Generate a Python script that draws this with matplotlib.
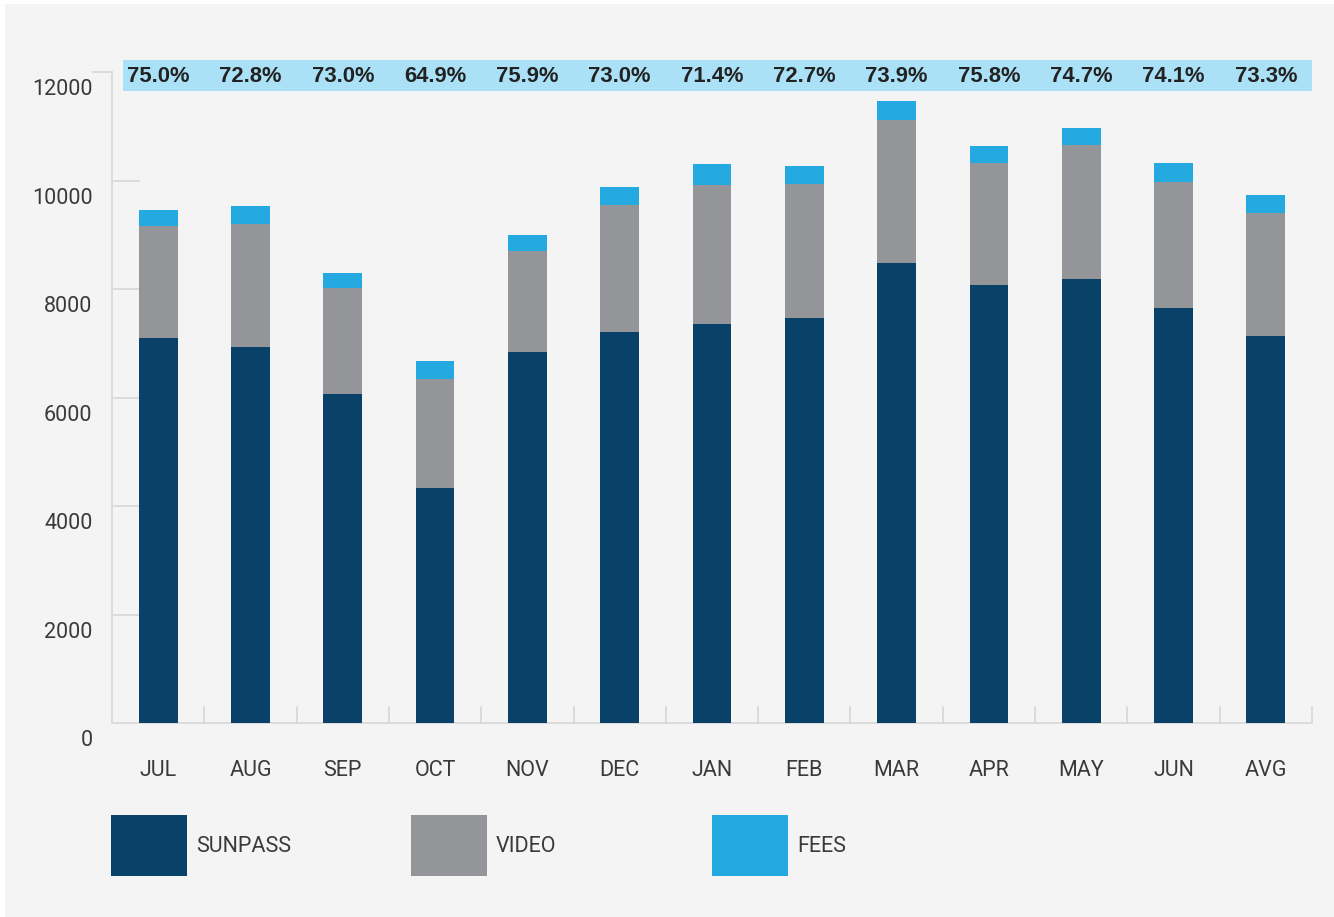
import matplotlib
matplotlib.use("Agg")
import matplotlib.pyplot as plt
from matplotlib.patches import Rectangle
from matplotlib.transforms import ScaledTranslation

# Monthly revenue split (stacked), plus the SunPass share of each month's total
months = ["JUL", "AUG", "SEP", "OCT", "NOV", "DEC", "JAN", "FEB", "MAR", "APR", "MAY", "JUN", "AVG"]
sunpass = [7095, 6940, 6060, 4330, 6830, 7210, 7360, 7470, 8480, 8065, 8190, 7650, 7130]
video = [2065, 2260, 1960, 2010, 1870, 2340, 2560, 2470, 2640, 2265, 2470, 2320, 2270]
fees = [300, 330, 280, 330, 300, 330, 390, 330, 350, 310, 310, 350, 330]
share_labels = ["75.0%", "72.8%", "73.0%", "64.9%", "75.9%", "73.0%", "71.4%",
                "72.7%", "73.9%", "75.8%", "74.7%", "74.1%", "73.3%"]
series_names = ["SUNPASS", "VIDEO", "FEES"]
y_ticks = [0, 2000, 4000, 6000, 8000, 10000, 12000]

C_SUN = "#0a4169"
C_VID = "#949599"
C_FEE = "#24a9e1"
C_BAND = "#abe1f6"
C_BG = "#f4f4f4"
C_AXIS = "#d9d9d9"
C_TEXT = "#3a3a3a"

LIGHT = dict(family=["Roboto", "DejaVu Sans"], weight="normal")

W, H = 1334, 917
fig = plt.figure(figsize=(W / 100, H / 100), dpi=100, facecolor="white")
fig.patches.append(Rectangle((5 / W, 0), 1 - 5 / W, 1 - 4 / H, transform=fig.transFigure,
                             facecolor=C_BG, edgecolor="none", zorder=-10))

ax = fig.add_axes([112 / W, 194 / H, 1200 / W, 651 / H])
ax.set_facecolor("none")

x = list(range(len(months)))
bw = 0.42
base_video = sunpass
base_fees = [s + v for s, v in zip(sunpass, video)]
ax.bar(x, sunpass, width=bw, color=C_SUN, zorder=3)
ax.bar(x, video, width=bw, bottom=base_video, color=C_VID, zorder=3)
ax.bar(x, fees, width=bw, bottom=base_fees, color=C_FEE, zorder=3)

ax.set_xlim(-0.5, len(months) - 0.5)
ax.set_ylim(0, 12000)

for side in ("top", "right"):
    ax.spines[side].set_visible(False)
for side in ("left", "bottom"):
    ax.spines[side].set_color(C_AXIS)
    ax.spines[side].set_linewidth(1.3)

# y axis: labels sit a little below their gridline stubs
ax.set_yticks(y_ticks)
ax.set_yticklabels([str(v) for v in y_ticks], fontsize=15.5, color=C_TEXT, **LIGHT)
ax.tick_params(axis="y", length=0, pad=14)
shift = ScaledTranslation(0, -0.15, fig.dpi_scale_trans)
for lab in ax.get_yticklabels():
    lab.set_transform(lab.get_transform() + shift)

span_px = 1200.0
for v in y_ticks[1:-1]:
    ax.axhline(v, xmin=0, xmax=27 / span_px, color=C_AXIS, lw=1.3, zorder=1)
ax.axhline(y_ticks[-1], xmin=-19 / span_px, xmax=0, color=C_AXIS, lw=1.3, clip_on=False, zorder=1)

# x axis: category labels with short separators between groups
ax.set_xticks(x)
ax.set_xticklabels(months, fontsize=15.5, color=C_TEXT, **LIGHT)
ax.tick_params(axis="x", length=0, pad=27)
for i in range(len(months)):
    ax.axvline(i + 0.5, ymin=0, ymax=16 / 651, color=C_AXIS, lw=1.3, clip_on=False, zorder=1)

# share band across the top
ax.add_patch(Rectangle((-0.38, 11650), len(months) - 0.12, 570, facecolor=C_BAND,
                       edgecolor="none", clip_on=False, zorder=2))
for i, lab in enumerate(share_labels):
    ax.text(i, 11920, lab, ha="center", va="center", fontsize=15.8, fontweight="bold",
            color="#222222", family=["Liberation Sans", "DejaVu Sans"], zorder=4, clip_on=False)

# legend
for (name, col, x0) in zip(series_names, [C_SUN, C_VID, C_FEE], [111, 411, 712]):
    fig.patches.append(Rectangle((x0 / W, (H - 876) / H), 76 / W, 61 / H,
                                 transform=fig.transFigure, facecolor=col, edgecolor="none", zorder=2))
    fig.text((x0 + 85) / W, (H - 847) / H, name, ha="left", va="center",
             fontsize=15.5, color=C_TEXT, **LIGHT)

fig.savefig("out.png", dpi=100, facecolor=fig.get_facecolor())
